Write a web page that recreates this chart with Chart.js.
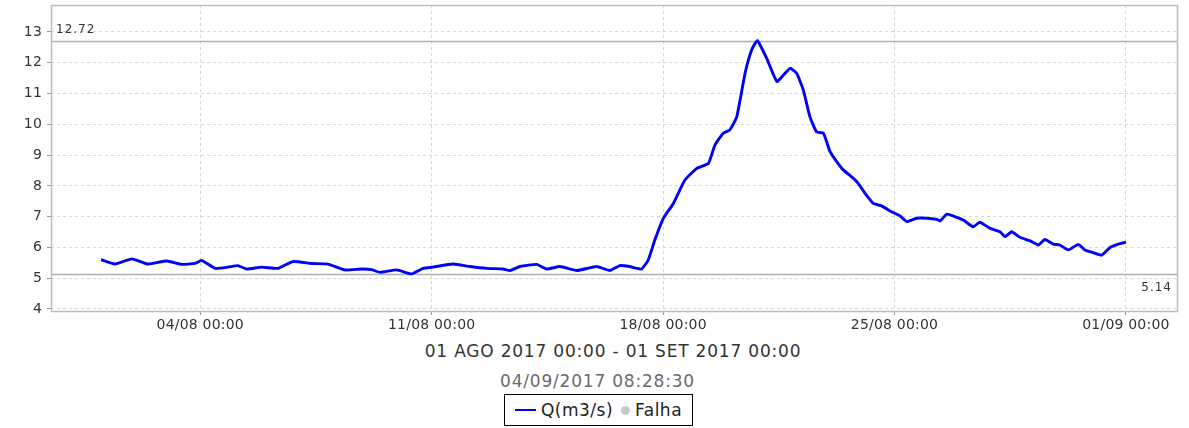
<!DOCTYPE html>
<html>
<head>
<meta charset="utf-8">
<script src="https://cdn.jsdelivr.net/npm/chart.js@4.4.1/dist/chart.umd.min.js"></script>
<style>
  html, body { margin: 0; padding: 0; background: #fff; }
  #wrap { position: relative; width: 1189px; height: 428px; font-family: "DejaVu Sans", sans-serif; }
  #chart { position: absolute; left: 0; top: 0; }
  .period { position: absolute; left: 0; top: 341px; width: 1226px; text-align: center;
            font-size: 17px; line-height: 20px; color: #333; letter-spacing: 0.8px; }
  .stamp { position: absolute; left: 0; top: 371px; width: 1195px; text-align: center;
           font-size: 17px; line-height: 20px; color: #6a6a6a; letter-spacing: 0.8px; }
  #legend { position: absolute; left: 504px; top: 394px; width: 187px; height: 30px;
            border: 1px solid #000; display: flex; align-items: center; justify-content: center;
            font-size: 17px; color: #222; letter-spacing: 0.5px; }
  #legend .line { display: inline-block; width: 21px; height: 2px; margin-right: 5px; }
  #legend .dot { display: inline-block; width: 9px; height: 9px; border-radius: 50%; margin: 0 5px 0 8px; }
</style>
</head>
<body>
<div id="wrap">
  <canvas id="chart" width="1189" height="340"></canvas>
  <div class="period">01 AGO 2017 00:00 - 01 SET 2017 00:00</div>
  <div class="stamp">04/09/2017 08:28:30</div>
  <div id="legend"></div>
</div>
<script>
// days counted from 01/08/2017 00:00
const days = [
  0, 0.42, 0.93, 1.42, 1.98, 2.44, 2.84, 3.04, 3.45, 3.84, 4.14, 4.40, 4.86, 5.35,
  5.80, 6.37, 6.86, 7.38, 7.88, 8.18, 8.44, 8.94, 9.40, 9.74, 10.04, 10.64, 11.16,
  11.66, 12.16, 12.37, 12.67, 13.18, 13.48, 13.88, 14.39, 14.99, 15.39, 15.69, 15.98,
  16.20, 16.35, 16.55, 16.75, 17.01, 17.31, 17.66, 18.02, 18.37, 18.57, 18.82, 19.02,
  19.23, 19.48, 19.68, 19.85, 20.13, 20.44, 20.64, 20.84, 21.04, 21.24, 21.44, 21.64,
  21.85, 22.05, 22.25, 22.45, 22.75, 22.90, 23.11, 23.36, 23.61, 23.91, 24.17, 24.37,
  24.67, 24.97, 25.28, 25.38, 25.58, 25.78, 26.08, 26.38, 26.58, 26.89, 27.19, 27.34,
  27.54, 27.79, 28.09, 28.35, 28.55, 28.80, 29.00, 29.26, 29.56, 29.76, 30.01, 30.27,
  30.52, 30.77, 31.00
];
const flow = [
  5.60, 5.46, 5.63, 5.46, 5.56, 5.45, 5.48, 5.58, 5.32, 5.36, 5.41, 5.30, 5.36, 5.32,
  5.54, 5.48, 5.46, 5.27, 5.30, 5.28, 5.19, 5.27, 5.14, 5.32, 5.36, 5.46, 5.38,
  5.32, 5.30, 5.25, 5.38, 5.45, 5.30, 5.38, 5.25, 5.38, 5.25, 5.41, 5.38,
  5.32, 5.30, 5.59, 6.24, 6.95, 7.43, 8.19, 8.57, 8.73, 9.33, 9.71, 9.82,
  10.25, 11.66, 12.42, 12.72, 12.15, 11.39, 11.60, 11.82, 11.66, 11.12, 10.25, 9.76,
  9.71, 9.11, 8.79, 8.52, 8.25, 8.08, 7.76, 7.43, 7.35, 7.16, 7.02, 6.84,
  6.95, 6.95, 6.91, 6.86, 7.08, 7.02, 6.89, 6.67, 6.82, 6.62, 6.51, 6.35,
  6.51, 6.33, 6.22, 6.08, 6.26, 6.11, 6.08, 5.92, 6.10, 5.92, 5.83, 5.75,
  6.00, 6.11, 6.17
];
const dayTicks = [3, 10, 17, 24, 31];
const dayLabels = ["04/08 00:00", "11/08 00:00", "18/08 00:00", "25/08 00:00", "01/09 00:00"];
const yTicks = [4, 5, 6, 7, 8, 9, 10, 11, 12, 13];

const frame = {
  id: "frame",
  beforeDraw(chart) {
    chart.ctx.letterSpacing = "0.2px";
  },
  beforeDatasetsDraw(chart) {
    const { ctx, chartArea: a, scales: { y } } = chart;
    const vals = chart.data.datasets[0].data.map(p => p.y);
    const hi = Math.max(...vals);
    const lo = Math.min(...vals);
    ctx.save();
    ctx.strokeStyle = "#b0b0b0";
    ctx.lineWidth = 1.3;
    [hi, lo].forEach(v => {
      const py = Math.round(y.getPixelForValue(v)) + 0.5;
      ctx.beginPath();
      ctx.moveTo(a.left, py);
      ctx.lineTo(a.right, py);
      ctx.stroke();
    });
    ctx.font = '12px "DejaVu Sans"';
    ctx.fillStyle = "#333";
    ctx.letterSpacing = "1px";
    ctx.textBaseline = "alphabetic";
    ctx.textAlign = "left";
    ctx.fillText(hi.toFixed(2), a.left + 5, y.getPixelForValue(hi) - 8);
    ctx.textAlign = "right";
    ctx.fillText(lo.toFixed(2), a.right - 6, y.getPixelForValue(lo) + 17);
    ctx.restore();
  },
  afterDraw(chart) {
    const { ctx, chartArea: a } = chart;
    ctx.save();
    ctx.strokeStyle = "#bdbdbd";
    ctx.lineWidth = 1.5;
    ctx.strokeRect(a.left + 0.5, a.top + 0.5, a.right - a.left - 1, a.bottom - a.top);
    ctx.restore();
  }
};

const tickFont = { family: "DejaVu Sans", size: 14 };

const chart = new Chart(document.getElementById("chart"), {
  type: "line",
  data: {
    datasets: [{
      label: "Q(m3/s)",
      data: days.map((d, i) => ({ x: d, y: flow[i] })),
      borderColor: "#0000ff",
      backgroundColor: "#0000ff",
      borderWidth: 2.9,
      pointRadius: 0,
      tension: 0.15,
      fill: false
    }, {
      label: "Falha",
      data: [],
      showLine: false,
      borderColor: "#c8c8c8",
      backgroundColor: "#c8c8c8",
      pointStyle: "circle"
    }]
  },
  options: {
    responsive: false,
    animation: false,
    layout: { padding: { top: 5, right: 11, left: 0, bottom: 0 } },
    plugins: { legend: { display: false }, tooltip: { enabled: false } },
    scales: {
      x: {
        type: "linear",
        min: -1.515,
        max: 32.575,
        afterBuildTicks: s => { s.ticks = dayTicks.map(v => ({ value: v })); },
        afterFit: s => { s.height = 29; s.paddingLeft = 0; s.paddingRight = 0; },
        ticks: {
          autoSkip: false,
          maxRotation: 0,
          padding: 2,
          color: "#333",
          font: tickFont,
          callback: v => dayLabels[dayTicks.indexOf(v)]
        },
        grid: { color: "#d6d6d6", lineWidth: 1, tickColor: "#999", tickLength: 4 },
        border: { display: false, dash: [3, 3] }
      },
      y: {
        min: 3.935,
        max: 13.877,
        afterBuildTicks: s => { s.ticks = yTicks.map(v => ({ value: v })); },
        afterFit: s => { s.width = 51; s.paddingTop = 0; s.paddingBottom = 0; },
        ticks: { padding: 5, color: "#333", font: tickFont },
        grid: { color: "#d6d6d6", lineWidth: 1, tickColor: "#999", tickLength: 4 },
        border: { display: false, dash: [3, 3] }
      }
    }
  },
  plugins: [frame]
});

// legend from the chart's datasets
const legend = document.getElementById("legend");
chart.data.datasets.forEach(ds => {
  const mark = document.createElement("span");
  mark.className = ds.showLine === false ? "dot" : "line";
  mark.style.background = ds.borderColor;
  const txt = document.createElement("span");
  txt.textContent = ds.label;
  legend.appendChild(mark);
  legend.appendChild(txt);
});
</script>
</body>
</html>
